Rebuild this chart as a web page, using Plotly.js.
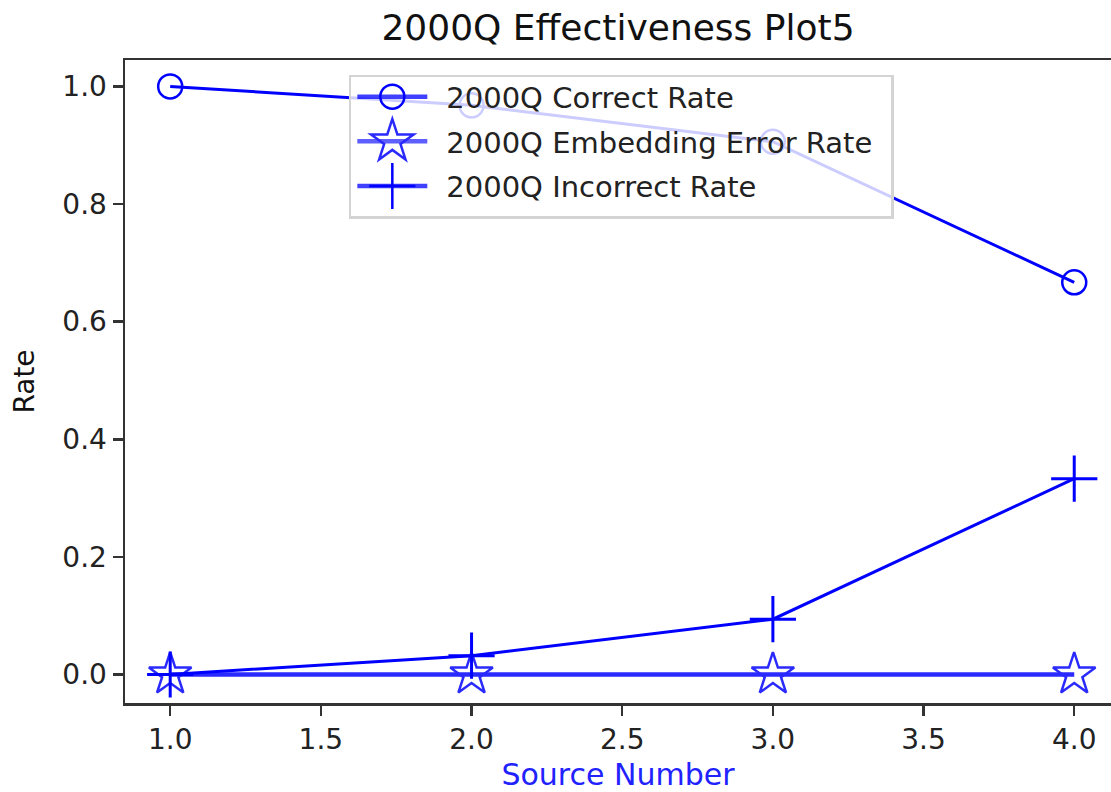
<!DOCTYPE html>
<html>
<head>
<meta charset="utf-8">
<script src="https://cdn.plot.ly/plotly-3.0.1.min.js"></script>
<style>html,body{margin:0;padding:0;background:#fff;overflow:hidden}</style>
</head>
<body>
<div id="chart" style="width:1111px;height:792px"></div>
<script>
// Data
const sourceNumber = [1, 2, 3, 4];
const correctRate = [1.0, 0.968, 0.906, 0.667];
const embeddingErrorRate = [0.0, 0.0, 0.0, 0.0];
const incorrectRate = [0.0, 0.032, 0.094, 0.333];
const seriesNames = ["2000Q Correct Rate", "2000Q Embedding Error Rate", "2000Q Incorrect Rate"];
const xTickVals = [1.0, 1.5, 2.0, 2.5, 3.0, 3.5, 4.0];
const yTickVals = [0.0, 0.2, 0.4, 0.6, 0.8, 1.0];

const FONT = "DejaVu Sans, Liberation Sans, sans-serif";
const BLUE = "#0000ff";

const traces = [
  {
    x: sourceNumber, y: correctRate, name: seriesNames[0], type: "scatter", mode: "lines+markers",
    line: {color: BLUE, width: 3},
    marker: {symbol: "circle-open", size: 24, color: BLUE, line: {width: 2.5, color: "#2a2aff"}},
    cliponaxis: false, legendgroup: "a"
  },
  {
    x: sourceNumber, y: embeddingErrorRate, name: seriesNames[1], type: "scatter", mode: "lines+markers",
    line: {color: "#2a2aff", width: 4.5},
    marker: {symbol: "star-open", size: 32, color: "#2a2aff", line: {width: 2.5, color: "#2a2aff"}},
    cliponaxis: false, legendgroup: "b"
  },
  {
    x: sourceNumber, y: incorrectRate, name: seriesNames[2], type: "scatter", mode: "lines+markers",
    line: {color: BLUE, width: 3},
    marker: {symbol: "cross-thin-open", size: 33, color: BLUE, line: {width: 3, color: BLUE}},
    cliponaxis: false, legendgroup: "c"
  }
];

const layout = {
  width: 1111, height: 792, autosize: false,
  paper_bgcolor: "#fff", plot_bgcolor: "#fff",
  margin: {l: 125, r: 0, t: 60, b: 89, pad: 0},
  font: {family: FONT, color: "#222", size: 28},
  title: {
    text: "2000Q Effectiveness Plot5",
    font: {family: FONT, size: 36, color: "#111"},
    x: 0.5, xref: "paper", xanchor: "center",
    y: 0.966, yref: "container", yanchor: "middle"
  },
  showlegend: true,
  legend: {
    x: 0.227, y: 0.977, xref: "paper", yref: "paper", xanchor: "left", yanchor: "top",
    bgcolor: "rgba(255,255,255,0.8)", bordercolor: "#d4d4d4", borderwidth: 2.5,
    font: {family: FONT, size: 29, color: "#222"},
    traceorder: "grouped", tracegroupgap: 4, itemwidth: 85
  },
  xaxis: {
    title: {text: "Source Number", font: {family: FONT, size: 30, color: "#2222ff"}, standoff: 14},
    range: [0.85, 4.122], tickmode: "array", tickvals: xTickVals, tickformat: ".1f",
    showgrid: false, zeroline: false,
    showline: true, linecolor: "#333", linewidth: 2.5, mirror: true,
    ticks: "outside", ticklen: 10, tickwidth: 2.5, tickcolor: "#333",
    tickfont: {family: FONT, size: 28, color: "#222"}
  },
  yaxis: {
    title: {text: "Rate", font: {family: FONT, size: 28, color: "#111"}, standoff: 20},
    range: [-0.0485, 1.045], tickmode: "array", tickvals: yTickVals, tickformat: ".1f",
    showgrid: false, zeroline: false,
    showline: true, linecolor: "#333", linewidth: 2.5, mirror: false,
    ticks: "outside", ticklen: 10, tickwidth: 2.5, tickcolor: "#333",
    tickfont: {family: FONT, size: 28, color: "#222"}
  }
};

const gd = document.getElementById("chart");
Plotly.newPlot(gd, traces, layout, {staticPlot: true, displayModeBar: false}).then(function () {
  // legend symbols: longer line sample and markers at their plotted size
  const legendScales = [1.5, 2.0, 2.06];
  gd.querySelectorAll(".legend .traces").forEach(function (g, i) {
    g.querySelectorAll(".legendlines path").forEach(function (p) {
      p.setAttribute("d", "M6,0h70");
      p.style.strokeWidth = "4.5px";
      p.style.strokeOpacity = "0.75";
    });
    g.querySelectorAll(".legendpoints path.scatterpts").forEach(function (p) {
      p.setAttribute("transform", "translate(41,0) scale(" + legendScales[i] + ")");
      p.style.vectorEffect = "non-scaling-stroke";
      p.style.strokeWidth = "2.5px";
    });
  });
  const sb = gd.querySelector(".legend .scrollbox");
  if (sb) sb.setAttribute("transform", "translate(0,-6)");
  const bg = gd.querySelector(".legend rect.bg");
  if (bg) {
    const w = parseFloat(bg.getAttribute("width"));
    bg.setAttribute("width", w + 14);
    const h = parseFloat(bg.getAttribute("height"));
    bg.setAttribute("height", h - 2);
  }
});
</script>
</body>
</html>
